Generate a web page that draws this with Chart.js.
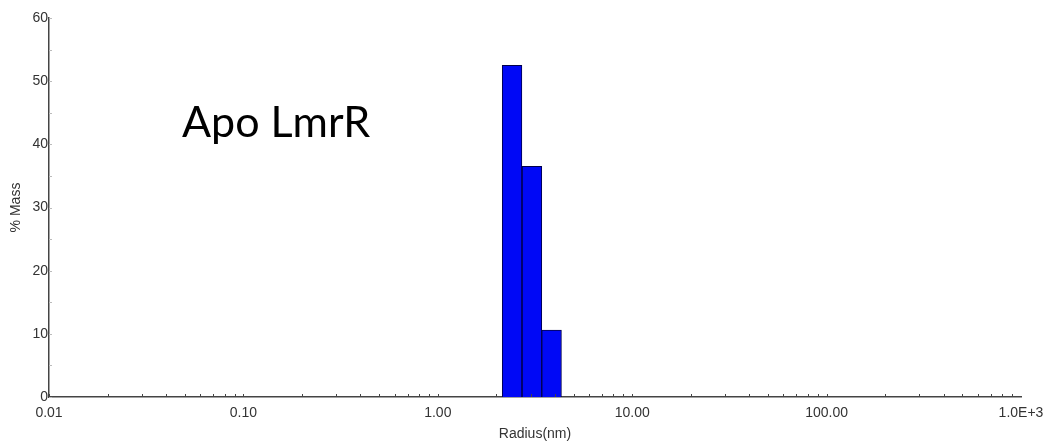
<!DOCTYPE html>
<html>
<head>
<meta charset="utf-8">
<script src="https://cdn.jsdelivr.net/npm/chart.js@4"></script>
<style>
  body { margin: 0; background: #fff; }
  #wrap { position: relative; width: 1046px; height: 445px; }
  #note {
    position: absolute; left: 182px; top: 99px;
    font-family: Lato, "Open Sans", sans-serif; font-size: 43px; line-height: 43px;
    color: #000; white-space: nowrap;
  }
</style>
</head>
<body>
<div id="wrap">
  <canvas id="myChart" width="1046" height="445"></canvas>
  <div id="note">Apo LmrR</div>
</div>
<script>
// bin centres (nm) and % mass
var radiusBins = [2.41, 3.05, 3.85]
var massPct = [52.5, 36.5, 10.6]

// x axis decades and their printed labels
var xTickValues = [0.01, 0.1, 1, 10, 100, 1000]
var xTickLabels = ['0.01', '0.10', '1.00', '10.00', '100.00', '1.0E+3']
var yTickValues = [0, 10, 20, 30, 40, 50, 60]
var yMinorValues = [5, 15, 25, 35, 45, 55]

// small inward tick marks like the original instrument plot
var minorTicks = {
    id: 'minorTicks',
    afterDraw(chart) {
        var ctx = chart.ctx
        var x = chart.scales.x, y = chart.scales.y
        ctx.save()
        ctx.strokeStyle = '#444'
        ctx.lineWidth = 1
        ctx.beginPath()
        for (var d = 0; d < xTickValues.length - 1; d++) {
            for (var k = 1; k < 10; k++) {
                var px = Math.round(x.getPixelForValue(xTickValues[d] * k)) + 0.5
                ctx.moveTo(px, y.bottom)
                ctx.lineTo(px, y.bottom - 3)
            }
        }
        ctx.stroke()
        ctx.strokeStyle = '#bbb'
        ctx.beginPath()
        yMinorValues.concat(yTickValues).forEach(v => {
            var py = Math.round(y.getPixelForValue(v)) + 0.5
            ctx.moveTo(x.left, py)
            ctx.lineTo(x.left + 3, py)
        })
        ctx.stroke()
        ctx.restore()
    }
}

var ctx = document.getElementById('myChart').getContext('2d')

var myChart = new Chart(ctx, {
    type: 'bar',
    data: {
        datasets: [{
            label: '% Mass',
            data: radiusBins.map((r, i) => ({ x: r, y: massPct[i] })),
            backgroundColor: '#0008f6',
            borderColor: '#00004a',
            borderWidth: 1,
            barPercentage: 1,
            categoryPercentage: 1
        }]
    },
    options: {
        responsive: false,
        animation: false,
        layout: { padding: { top: 18, right: 25, left: 0, bottom: 0 } },
        plugins: {
            legend: { display: false },
            tooltip: { enabled: false }
        },
        scales: {
            x: {
                type: 'logarithmic',
                min: 0.01,
                max: 1000,
                afterBuildTicks: s => { s.ticks = xTickValues.map(v => ({ value: v })) },
                afterFit: s => { s.height = 48; s.paddingLeft = 0; s.paddingRight = 0 },
                grid: { display: false, drawTicks: false },
                border: { color: '#444', width: 1.5 },
                ticks: {
                    autoSkip: false,
                    maxRotation: 0,
                    padding: 8,
                    color: '#333',
                    font: { family: 'Liberation Sans', size: 14 },
                    callback: (v, i) => xTickLabels[xTickValues.indexOf(v)]
                },
                title: {
                    display: true,
                    text: 'Radius(nm)',
                    color: '#333',
                    font: { family: 'Liberation Sans', size: 14 },
                    padding: { top: 0, bottom: 2 }
                }
            },
            y: {
                min: 0,
                max: 60,
                afterBuildTicks: s => { s.ticks = yTickValues.map(v => ({ value: v })) },
                afterFit: s => { s.width = 49; s.paddingTop = 0; s.paddingBottom = 0 },
                grid: { display: false, drawTicks: false },
                border: { color: '#444', width: 1.5 },
                ticks: {
                    padding: 1,
                    color: '#333',
                    font: { family: 'Liberation Sans', size: 14 }
                },
                title: {
                    display: true,
                    text: '% Mass',
                    color: '#333',
                    font: { family: 'Liberation Sans', size: 14 },
                    padding: { top: 8, bottom: 0 }
                }
            }
        }
    },
    plugins: [minorTicks]
})
</script>
</body>
</html>
